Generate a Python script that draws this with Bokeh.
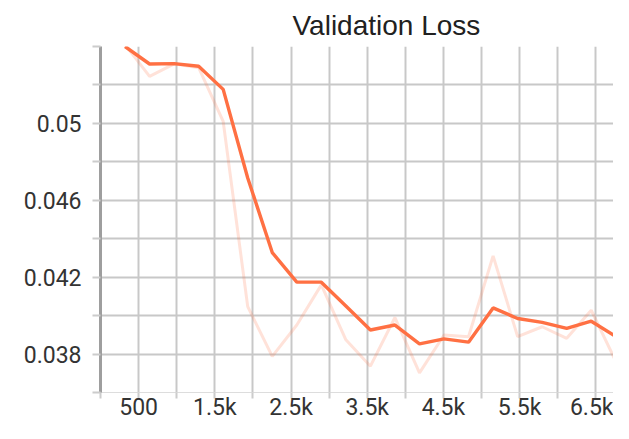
from bokeh.plotting import figure
from bokeh.models import Range1d, FixedTicker
from bokeh.embed import file_html
from bokeh.resources import INLINE

# ---- data ----
steps = [322, 644, 966, 1288, 1610, 1932, 2254, 2576, 2898, 3220, 3542,
         3864, 4186, 4508, 4830, 5152, 5474, 5796, 6118, 6440, 6762]
smoothed = [0.0540, 0.05309, 0.05311, 0.05297, 0.05177, 0.04716, 0.04328,
            0.04174, 0.04174, 0.04050, 0.03925, 0.03951, 0.03853, 0.03879,
            0.03862, 0.04040, 0.03985, 0.03965, 0.03934, 0.03971, 0.03891]
raw = [0.0541, 0.05245, 0.0531, 0.0529, 0.0501, 0.04047, 0.03788,
       0.03951, 0.0416, 0.03874, 0.03737, 0.03990, 0.03702, 0.03899,
       0.0389, 0.04311, 0.03891, 0.03942, 0.03882, 0.04028, 0.03762]

x_major = [500, 1500, 2500, 3500, 4500, 5500, 6500]
x_major_labels = ["500", "1.5k", "2.5k", "3.5k", "4.5k", "5.5k", "6.5k"]
x_minor = [0, 1000, 2000, 3000, 4000, 5000, 6000]
y_major = [0.038, 0.042, 0.046, 0.05]
y_major_labels = ["0.038", "0.042", "0.046", "0.05"]
y_minor = [0.036, 0.040, 0.044, 0.048, 0.052, 0.054]

title_text = "Validation Loss"
line_color = "#ff7043"

p = figure(width=613, height=423, output_backend="svg", toolbar_location=None,
           x_range=Range1d(0, 6732), y_range=Range1d(0.036, 0.054),
           min_border_left=100, min_border_right=0, min_border_top=46,
           min_border_bottom=29)
p.outline_line_color = None
p.background_fill_color = "white"
p.border_fill_color = "white"

p.title.text = title_text
p.title.text_font = "Liberation Sans"
p.title.text_font_size = "28px"
p.title.text_font_style = "normal"
p.title.text_color = "#212121"
p.title.align = "left"
p.title.offset = 192
p.title.standoff = 12

grid_color = "#c8c8c8"
for g in (p.xgrid, p.ygrid):
    g.grid_line_color = grid_color
    g.grid_line_width = 2
    g.minor_grid_line_color = grid_color
    g.minor_grid_line_width = 2

xa = p.xaxis[0]
xa.ticker = FixedTicker(ticks=x_major, minor_ticks=x_minor)
xa.major_label_overrides = dict(zip(x_major, x_major_labels))
xa.axis_line_color = "#dddddd"
xa.axis_line_width = 1
xa.major_tick_in = 0
xa.major_tick_out = 6
xa.minor_tick_in = 0
xa.minor_tick_out = 6
xa.major_tick_line_color = "#cccccc"
xa.minor_tick_line_color = "#cccccc"
xa.major_tick_line_width = 2
xa.minor_tick_line_width = 2
xa.major_label_text_font = "Roboto"
xa.major_label_text_font_size = "23px"
xa.major_label_text_color = "#333333"
xa.major_label_standoff = -5

ya = p.yaxis[0]
ya.ticker = FixedTicker(ticks=y_major, minor_ticks=y_minor)
ya.major_label_overrides = dict(zip(y_major, y_major_labels))
ya.axis_line_color = "#9e9e9e"
ya.axis_line_width = 3
ya.major_tick_in = 0
ya.major_tick_out = 8
ya.minor_tick_in = 0
ya.minor_tick_out = 8
ya.major_tick_line_color = "#cccccc"
ya.minor_tick_line_color = "#cccccc"
ya.major_tick_line_width = 2
ya.minor_tick_line_width = 2
ya.major_label_text_font = "Roboto"
ya.major_label_text_font_size = "23px"
ya.major_label_text_color = "#333333"
ya.major_label_standoff = 11

p.line(steps, raw, line_color=line_color, line_alpha=0.2, line_width=3)
p.line(steps, smoothed, line_color=line_color, line_width=3.4)

open("out.html", "w").write(file_html(p, INLINE))
